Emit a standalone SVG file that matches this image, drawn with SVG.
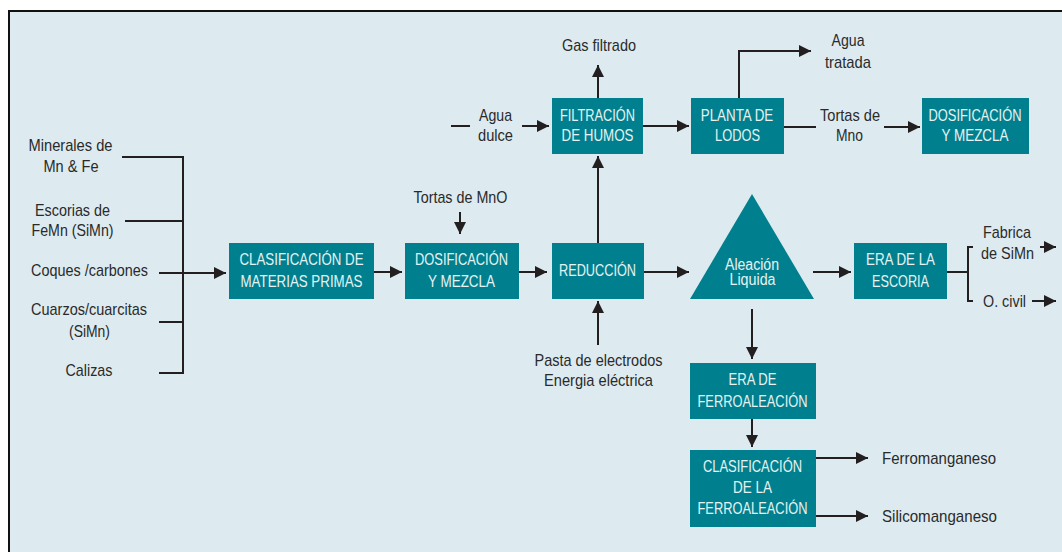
<svg xmlns="http://www.w3.org/2000/svg" width="1062" height="552" viewBox="0 0 1062 552">
  <style>
    .box { fill: #00808e; }
    .bt { font-family: "Liberation Sans", Arial, sans-serif; font-size: 17px; fill: #e6f2f3; text-anchor: middle; }
    .lb { font-family: "Liberation Sans", Arial, sans-serif; font-size: 17px; fill: #2a2a2a; text-anchor: middle; }
    .ls { text-anchor: start; }
    .ln { fill: none; stroke: #231f20; stroke-width: 2; }
    .ar { fill: none; stroke: #231f20; stroke-width: 2; marker-end: url(#ah); }
  </style>
  <defs>
    <marker id="ah" viewBox="0 0 12 12" refX="12" refY="6" markerWidth="12" markerHeight="12" markerUnits="userSpaceOnUse" orient="auto">
      <path d="M0,0 L12,6 L0,12 Z" fill="#231f20"/>
    </marker>
  </defs>

  <!-- page and framed panel -->
  <rect x="0" y="0" width="1062" height="552" fill="#ffffff"/>
  <rect x="9" y="11" width="1062" height="560" fill="#ddebf0" stroke="#111111" stroke-width="2"/>

  <!-- connectors -->
  <g id="connectors">
    <!-- raw material bracket -->
    <path class="ln" d="M122,157 H183 V373 H159 M125,221 H183 M159,322 H183"/>
    <path class="ar" d="M159,273 H226"/>
    <!-- main line -->
    <path class="ar" d="M374,272 H402"/>
    <path class="ar" d="M460,212 V234"/>
    <path class="ar" d="M519,272 H547"/>
    <path class="ar" d="M644,272 H689"/>
    <path class="ar" d="M598,345 V301"/>
    <!-- fume treatment -->
    <path class="ar" d="M598,243 V156"/>
    <path class="ar" d="M598,98 V65"/>
    <path class="ln" d="M451,126 H470"/>
    <path class="ar" d="M522,126 H549"/>
    <path class="ar" d="M643,126 H689"/>
    <path class="ar" d="M739,98 V51 H811"/>
    <path class="ln" d="M784,127 H816"/>
    <path class="ar" d="M884,127 H920"/>
    <!-- slag -->
    <path class="ar" d="M813,272 H851"/>
    <path class="ln" d="M947,272 H968 M973,247 H968 V301 H973"/>
    <path class="ar" d="M1040,247 H1056"/>
    <path class="ar" d="M1032,301 H1056"/>
    <!-- alloy -->
    <path class="ar" d="M752,309 V359"/>
    <path class="ar" d="M752,419 V447"/>
    <path class="ar" d="M816,458 H868"/>
    <path class="ar" d="M816,516 H868"/>
  </g>

  <!-- input labels -->
  <g id="inputs">
    <text class="lb" x="70.5" y="151" textLength="84" lengthAdjust="spacingAndGlyphs">Minerales de</text>
    <text class="lb" x="71" y="172" textLength="55" lengthAdjust="spacingAndGlyphs">Mn &amp; Fe</text>
    <text class="lb" x="72.5" y="216" textLength="75" lengthAdjust="spacingAndGlyphs">Escorias de</text>
    <text class="lb" x="72.5" y="236" textLength="82" lengthAdjust="spacingAndGlyphs">FeMn (SiMn)</text>
    <text class="lb" x="89.5" y="276" textLength="117" lengthAdjust="spacingAndGlyphs">Coques /carbones</text>
    <text class="lb" x="89" y="315" textLength="116" lengthAdjust="spacingAndGlyphs">Cuarzos/cuarcitas</text>
    <text class="lb" x="89.5" y="337" textLength="41" lengthAdjust="spacingAndGlyphs">(SiMn)</text>
    <text class="lb" x="89" y="376" textLength="47" lengthAdjust="spacingAndGlyphs">Calizas</text>
  </g>

  <g id="clasif-materias">
    <rect class="box" x="229" y="243" width="145" height="56"/>
    <text class="bt" x="301.5" y="265" textLength="124" lengthAdjust="spacingAndGlyphs">CLASIFICACIÓN DE</text>
    <text class="bt" x="301.5" y="287" textLength="122" lengthAdjust="spacingAndGlyphs">MATERIAS PRIMAS</text>
  </g>

  <g id="tortas-mno">
    <text class="lb" x="460.5" y="203" textLength="94" lengthAdjust="spacingAndGlyphs">Tortas de MnO</text>
  </g>

  <g id="dosif-1">
    <rect class="box" x="405" y="243" width="114" height="56"/>
    <text class="bt" x="461.5" y="265" textLength="93" lengthAdjust="spacingAndGlyphs">DOSIFICACIÓN</text>
    <text class="bt" x="461.5" y="287" textLength="67" lengthAdjust="spacingAndGlyphs">Y MEZCLA</text>
  </g>

  <g id="reduccion">
    <rect class="box" x="552" y="243" width="92" height="56"/>
    <text class="bt" x="597.5" y="276" textLength="77" lengthAdjust="spacingAndGlyphs">REDUCCIÓN</text>
  </g>

  <g id="pasta">
    <text class="lb" x="598.5" y="366" textLength="128" lengthAdjust="spacingAndGlyphs">Pasta de electrodos</text>
    <text class="lb" x="598.5" y="386" textLength="109" lengthAdjust="spacingAndGlyphs">Energia eléctrica</text>
  </g>

  <g id="gas-filtrado">
    <text class="lb" x="599" y="51" textLength="74" lengthAdjust="spacingAndGlyphs">Gas filtrado</text>
  </g>

  <g id="agua-dulce">
    <text class="lb" x="495.5" y="121" textLength="33" lengthAdjust="spacingAndGlyphs">Agua</text>
    <text class="lb" x="495.5" y="141" textLength="35" lengthAdjust="spacingAndGlyphs">dulce</text>
  </g>

  <g id="filtracion">
    <rect class="box" x="552" y="98" width="91" height="56"/>
    <text class="bt" x="597.5" y="121" textLength="75" lengthAdjust="spacingAndGlyphs">FILTRACIÓN</text>
    <text class="bt" x="597.5" y="141" textLength="72" lengthAdjust="spacingAndGlyphs">DE HUMOS</text>
  </g>

  <g id="planta-lodos">
    <rect class="box" x="691" y="98" width="93" height="56"/>
    <text class="bt" x="737" y="121" textLength="72.5" lengthAdjust="spacingAndGlyphs">PLANTA DE</text>
    <text class="bt" x="737.5" y="141" textLength="45" lengthAdjust="spacingAndGlyphs">LODOS</text>
  </g>

  <g id="agua-tratada">
    <text class="lb" x="848" y="46" textLength="33" lengthAdjust="spacingAndGlyphs">Agua</text>
    <text class="lb" x="848" y="68" textLength="46" lengthAdjust="spacingAndGlyphs">tratada</text>
  </g>

  <g id="tortas-mno-2">
    <text class="lb" x="850" y="121" textLength="60" lengthAdjust="spacingAndGlyphs">Tortas de</text>
    <text class="lb" x="849.5" y="141" textLength="27" lengthAdjust="spacingAndGlyphs">Mno</text>
  </g>

  <g id="dosif-2">
    <rect class="box" x="922" y="98" width="107" height="56"/>
    <text class="bt" x="975" y="121" textLength="93" lengthAdjust="spacingAndGlyphs">DOSIFICACIÓN</text>
    <text class="bt" x="975" y="141" textLength="67" lengthAdjust="spacingAndGlyphs">Y MEZCLA</text>
  </g>

  <g id="aleacion">
    <path class="box" d="M752,194 L814,299 L690,299 Z"/>
    <text class="bt" x="752" y="270" style="font-size:16px" textLength="54" lengthAdjust="spacingAndGlyphs">Aleación</text>
    <text class="bt" x="752.5" y="285" style="font-size:16px" textLength="46" lengthAdjust="spacingAndGlyphs">Liquida</text>
  </g>

  <g id="era-escoria">
    <rect class="box" x="854" y="243" width="93" height="56"/>
    <text class="bt" x="900.5" y="265" textLength="69" lengthAdjust="spacingAndGlyphs">ERA DE LA</text>
    <text class="bt" x="900.5" y="287" textLength="57" lengthAdjust="spacingAndGlyphs">ESCORIA</text>
  </g>

  <g id="escoria-destinos">
    <text class="lb" x="1007" y="238" textLength="48" lengthAdjust="spacingAndGlyphs">Fabrica</text>
    <text class="lb" x="1007.5" y="259" textLength="53" lengthAdjust="spacingAndGlyphs">de SiMn</text>
    <text class="lb ls" x="983" y="307" textLength="43" lengthAdjust="spacingAndGlyphs">O. civil</text>
  </g>

  <g id="era-ferro">
    <rect class="box" x="690" y="363" width="126" height="56"/>
    <text class="bt" x="752.5" y="385" textLength="48" lengthAdjust="spacingAndGlyphs">ERA DE</text>
    <text class="bt" x="752.5" y="407" textLength="110" lengthAdjust="spacingAndGlyphs">FERROALEACIÓN</text>
  </g>

  <g id="clasif-ferro">
    <rect class="box" x="690" y="450" width="126" height="77"/>
    <text class="bt" x="752.5" y="472" textLength="99" lengthAdjust="spacingAndGlyphs">CLASIFICACIÓN</text>
    <text class="bt" x="752.5" y="493" textLength="39" lengthAdjust="spacingAndGlyphs">DE LA</text>
    <text class="bt" x="752.5" y="514" textLength="110" lengthAdjust="spacingAndGlyphs">FERROALEACIÓN</text>
  </g>

  <g id="productos">
    <text class="lb ls" x="882" y="464" textLength="114" lengthAdjust="spacingAndGlyphs">Ferromanganeso</text>
    <text class="lb ls" x="882" y="522" textLength="115" lengthAdjust="spacingAndGlyphs">Silicomanganeso</text>
  </g>
</svg>
